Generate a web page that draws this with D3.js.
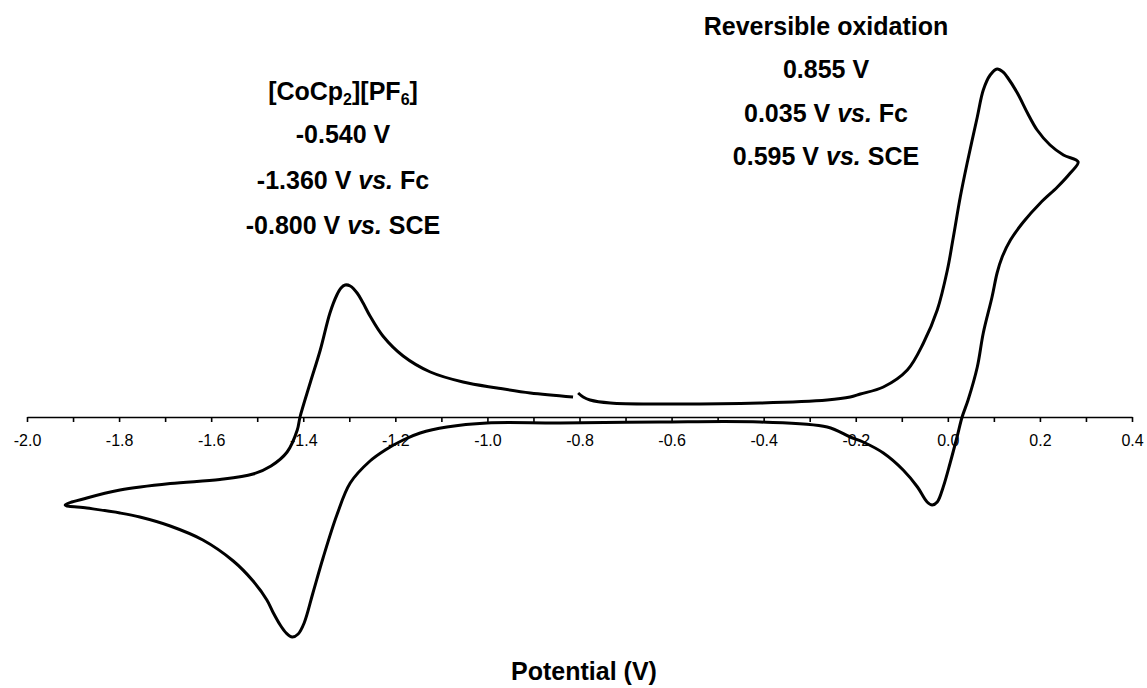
<!DOCTYPE html>
<html>
<head>
<meta charset="utf-8">
<script src="https://cdn.jsdelivr.net/npm/d3@7"></script>
<style>
  body { margin: 0; background: #fff; }
  text { font-family: "Liberation Sans", Arial, sans-serif; }
</style>
</head>
<body>
<div id="cv"></div>
<script>

// sweep 1: from -0.80 V up to the switching potential (+0.28 V)
var sweepUpV = [
  -0.803, -0.792, -0.777, -0.733, -0.625, -0.408, -0.262, -0.212, -0.190, -0.140,
  -0.088, -0.053, -0.023, -0.001, 0.012, 0.027, 0.042, 0.064, 0.077, 0.092,
  0.107, 0.120, 0.129, 0.151, 0.173, 0.194, 0.222, 0.251, 0.283
];
var sweepUpI = [
  0.24, 0.20, 0.17, 0.14, 0.13, 0.14, 0.17, 0.20, 0.23, 0.30,
  0.47, 0.74, 1.07, 1.47, 1.80, 2.20, 2.54, 3.00, 3.27, 3.42,
  3.48, 3.45, 3.40, 3.24, 3.04, 2.87, 2.72, 2.62, 2.55
];

// sweep 2: back down to -1.92 V
var sweepDownV = [
  0.266, 0.238, 0.201, 0.164, 0.136, 0.118, 0.107, 0.096, 0.077, 0.064,
  0.044, 0.031, 0.020, 0.005, -0.010, -0.023, -0.034, -0.045, -0.066, -0.097,
  -0.140, -0.184, -0.212, -0.262, -0.408, -0.625, -0.842, -1.001, -1.088, -1.146,
  -1.183, -1.222, -1.255, -1.298, -1.327, -1.357, -1.379, -1.398, -1.411, -1.424,
  -1.437, -1.450, -1.466, -1.479, -1.509, -1.552, -1.618, -1.689, -1.755, -1.798,
  -1.870, -1.917
];
var sweepDownI = [
  2.44, 2.30, 2.14, 1.95, 1.77, 1.60, 1.44, 1.20, 0.84, 0.50,
  0.17, 0.00, -0.20, -0.46, -0.70, -0.85, -0.88, -0.85, -0.70, -0.53,
  -0.36, -0.25, -0.20, -0.10, -0.05, -0.05, -0.06, -0.06, -0.10, -0.16,
  -0.23, -0.33, -0.44, -0.66, -0.98, -1.41, -1.76, -2.06, -2.17, -2.20,
  -2.16, -2.08, -1.95, -1.83, -1.64, -1.44, -1.23, -1.09, -1.00, -0.96,
  -0.91, -0.88
];

// sweep 3: back up to -0.81 V
var sweepBackV = [
  -1.870, -1.798, -1.689, -1.581, -1.509, -1.470, -1.435, -1.413, -1.407, -1.385,
  -1.363, -1.342, -1.327, -1.318, -1.309, -1.298, -1.283, -1.270, -1.255, -1.227,
  -1.183, -1.124, -1.053, -0.979, -0.907, -0.814
];
var sweepBackI = [
  -0.81, -0.73, -0.665, -0.625, -0.57, -0.49, -0.35, -0.13, 0.00, 0.34,
  0.67, 1.04, 1.22, 1.29, 1.32, 1.31, 1.24, 1.14, 1.01, 0.81,
  0.61, 0.45, 0.35, 0.29, 0.24, 0.20
];

var xTicks = d3.range(-20, 5).map(function(i) { return i / 10; });

var leftNotes = ["-0.540 V", "-1.360 V |vs.| Fc", "-0.800 V |vs.| SCE"];
var rightNotes = ["Reversible oxidation", "0.855 V", "0.035 V |vs.| Fc", "0.595 V |vs.| SCE"];

var width = 1147, height = 688;

var svg = d3.select("#cv")
  .append("svg")
    .attr("width", width)
    .attr("height", height);

var x = d3.scaleLinear()
  .domain([-2.0, 0.4])
  .range([27, 1132]);

var y = d3.scaleLinear()
  .domain([-2.4, 3.8])
  .range([657, 37]);

// x axis sits at zero current
var xAxis = svg.append("g")
  .attr("transform", "translate(0," + y(0) + ")")
  .call(d3.axisBottom(x)
    .tickValues(xTicks)
    .tickSize(5)
    .tickSizeOuter(0)
    .tickPadding(13)
    .tickFormat(function(d) {
      return Math.round(d * 10) % 2 !== 0 ? "" : d.toFixed(1);
    }));

xAxis.select(".domain").attr("stroke", "#000").attr("stroke-width", 1.6);
xAxis.selectAll(".tick line").attr("stroke", "#000").attr("stroke-width", 1.6);
xAxis.selectAll(".tick text")
  .attr("fill", "#000")
  .style("font-size", "16px")
  .style("font-family", "'Liberation Sans', Arial, sans-serif");

// the voltammogram, one continuous trace
var V = sweepUpV.concat(sweepDownV, sweepBackV);
var I = sweepUpI.concat(sweepDownI, sweepBackI);
var pts = V.map(function(v, i) { return [v, I[i]]; });

svg.append("path")
  .datum(pts)
  .attr("fill", "none")
  .attr("stroke", "#000")
  .attr("stroke-width", 3)
  .attr("stroke-linejoin", "round")
  .attr("d", d3.line()
    .curve(d3.curveCatmullRom.alpha(0.5))
    .x(function(d) { return x(d[0]); })
    .y(function(d) { return y(d[1]); }));

// annotation lines, "|vs.|" marks the italic part
function noteLine(t, cx, by) {
  var txt = svg.append("text")
    .attr("x", cx)
    .attr("y", by)
    .attr("text-anchor", "middle")
    .style("font-size", "25px")
    .style("font-weight", "bold");
  t.split("|").forEach(function(part, i) {
    txt.append("tspan")
      .style("font-style", i % 2 === 1 ? "italic" : "normal")
      .attr("xml:space", "preserve")
      .text(part);
  });
  return txt;
}

// compound name with subscripts
var title = svg.append("text")
  .attr("x", 343)
  .attr("y", 100)
  .attr("text-anchor", "middle")
  .style("font-size", "25px")
  .style("font-weight", "bold");
title.append("tspan").text("[CoCp");
title.append("tspan").attr("dy", 5).style("font-size", "16px").text("2");
title.append("tspan").attr("dy", -5).text("][PF");
title.append("tspan").attr("dy", 5).style("font-size", "16px").text("6");
title.append("tspan").attr("dy", -5).text("]");

leftNotes.forEach(function(t, i) {
  noteLine(t, 343, 143 + i * 45.5);
});

rightNotes.forEach(function(t, i) {
  noteLine(t, 826, 35 + i * 43.3);
});

svg.append("text")
  .attr("x", 584)
  .attr("y", 680)
  .attr("text-anchor", "middle")
  .style("font-size", "25px")
  .style("font-weight", "bold")
  .text("Potential (V)");

</script>
</body>
</html>
